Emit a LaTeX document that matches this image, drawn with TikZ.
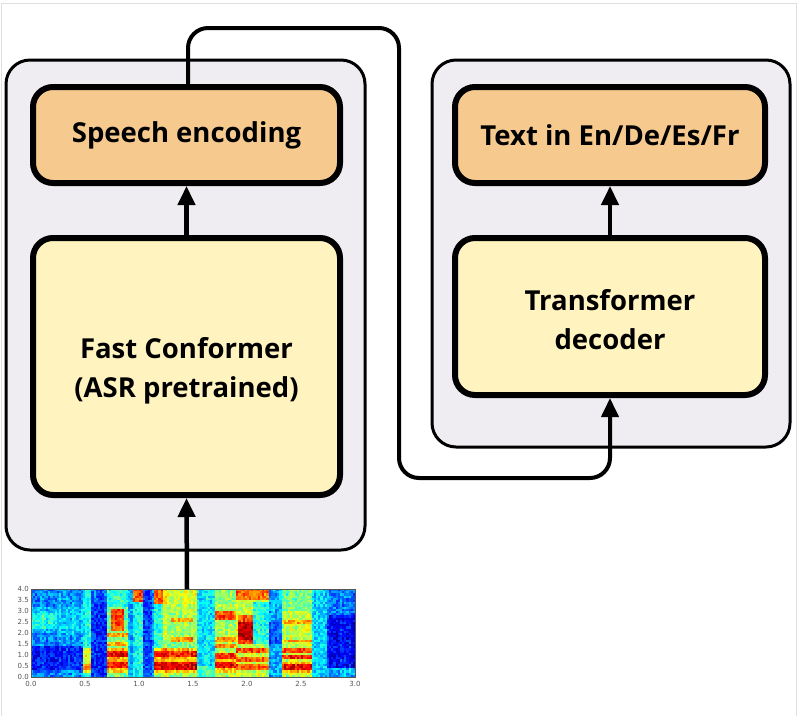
\documentclass[tikz,border=0pt]{standalone}
\usepackage{fontspec}
\setmainfont{Open Sans}
\newfontfamily\axfont{DejaVu Sans}
\usetikzlibrary{arrows.meta}
\definecolor{boxorange}{HTML}{F6CA8F}
\definecolor{boxyellow}{HTML}{FFF4BF}
\definecolor{panelgrey}{HTML}{EFEDF2}
\definecolor{axgrey}{HTML}{555555}
\newcommand\inr[4]{\ifdim#1pt>#2pt\relax\ifdim#1pt<#3pt\relax#4\fi\fi}
\newcommand\setv[1]{\def\spval{#1}}
\newcommand\specvalue{%
\setv{0.16}%
\inr\sT{-1}{0.48}{\inr\sF{1.4}{5}{\setv{0.27}}\inr\sF{2.0}{3.2}{\setv{0.33}}\inr\sF{0}{0.35}{\setv{0.27}}%
  \inr\sT{-1}{0.25}{\inr\sF{2.2}{2.9}{\setv{0.42}}}}%
\inr\sT{0.48}{0.555}{\setv{0.4}\inr\sF{0.2}{1.3}{\setv{0.6}}\inr\sF{0.35}{0.65}{\setv{0.72}}}%
\inr\sT{0.555}{0.70}{\inr\sF{3.4}{5}{\setv{0.22}}}%
\inr\sT{0.70}{0.90}{\setv{0.5}%
  \inr\sF{0.25}{0.8}{\setv{0.68}}\inr\sF{0.38}{0.68}{\setv{0.86}}%
  \inr\sF{0.8}{1.3}{\setv{0.7}}\inr\sF{0.9}{1.2}{\setv{0.9}}%
  \inr\sF{1.4}{1.6}{\setv{0.7}}%
  \inr\sF{1.8}{2.0}{\setv{0.72}}%
  \inr\sT{0.74}{0.86}{\inr\sF{2.1}{3.1}{\setv{0.8}}}%
  \inr\sF{3.2}{5}{\setv{0.42}}}%
\inr\sT{0.90}{1.15}{\setv{0.28}%
  \inr\sT{0.95}{1.05}{\setv{0.4}\inr\sF{3.4}{5}{\setv{0.8}}}%
  \inr\sT{1.05}{1.12}{\setv{0.18}}}%
\inr\sT{1.15}{1.55}{\setv{0.55}%
  \inr\sF{0.2}{0.85}{\setv{0.68}}\inr\sF{0.35}{0.72}{\setv{0.9}}%
  \inr\sF{0.85}{1.3}{\setv{0.7}}\inr\sF{0.9}{1.2}{\setv{0.86}}%
  \inr\sF{1.3}{1.6}{\setv{0.5}}%
  \inr\sT{1.3}{1.5}{\inr\sF{1.6}{1.8}{\setv{0.75}}\inr\sF{2.5}{2.7}{\setv{0.72}}}%
  \inr\sF{3.3}{5}{\setv{0.6}}%
  \inr\sT{1.15}{1.22}{\inr\sF{1.3}{3.3}{\setv{0.42}}\inr\sF{3.3}{5}{\setv{0.8}}}}%
\inr\sT{1.55}{1.70}{\setv{0.36}\inr\sF{0}{0.5}{\setv{0.45}}}%
\inr\sT{1.70}{1.90}{\setv{0.55}%
  \inr\sF{0.25}{0.8}{\setv{0.68}}\inr\sF{0.38}{0.7}{\setv{0.88}}%
  \inr\sF{0.85}{1.15}{\setv{0.84}}%
  \inr\sF{1.35}{1.55}{\setv{0.74}}%
  \inr\sF{1.65}{1.8}{\setv{0.72}}%
  \inr\sF{2.6}{3.0}{\setv{0.8}}%
  \inr\sF{3.3}{5}{\setv{0.52}}}%
\inr\sT{1.90}{2.20}{\setv{0.58}%
  \inr\sF{0.35}{0.6}{\setv{0.8}}%
  \inr\sF{0.75}{0.95}{\setv{0.8}}%
  \inr\sF{1.1}{1.3}{\setv{0.8}}%
  \inr\sT{1.92}{2.06}{\inr\sF{1.5}{2.8}{\setv{0.8}}\inr\sF{1.7}{2.5}{\setv{0.95}}}%
  \inr\sF{3.5}{5}{\setv{0.78}}%
  \inr\sT{2.06}{2.2}{\inr\sF{1.5}{3.4}{\setv{0.42}}}}%
\inr\sT{2.20}{2.33}{\setv{0.28}\inr\sF{1.5}{2.5}{\setv{0.2}}}%
\inr\sT{2.33}{2.60}{\setv{0.56}%
  \inr\sF{0.25}{0.75}{\setv{0.68}}\inr\sF{0.35}{0.65}{\setv{0.88}}%
  \inr\sF{0.8}{1.0}{\setv{0.84}}%
  \inr\sF{1.15}{1.3}{\setv{0.8}}%
  \inr\sF{1.6}{1.75}{\setv{0.72}}%
  \inr\sF{2.4}{2.6}{\setv{0.7}}%
  \inr\sF{3.0}{5}{\setv{0.48}}}%
\inr\sT{2.60}{2.75}{\setv{0.33}}%
\inr\sT{2.75}{3.1}{\setv{0.14}\inr\sF{2.8}{5}{\setv{0.26}}\inr\sF{0}{0.4}{\setv{0.32}}}%
}
\tikzset{
  panel/.style={draw=black, fill=panelgrey, line width=3pt, rounded corners=24pt},
  boxfont/.style={font=\fontsize{27.5}{39}\selectfont\bfseries, align=center},
  obox/.style={draw=black, fill=boxorange, line width=6pt, rounded corners=20pt,
    boxfont, inner sep=0pt},
  ybox/.style={obox, fill=boxyellow},
  arr/.style={line width=4.5pt, -{Triangle[width=17pt,length=19pt]}},
  conn/.style={line width=4pt, rounded corners=20pt},
  axlabel/.style={font=\axfont\fontsize{7}{7}\selectfont, text=axgrey, inner sep=0.5pt},
}
\begin{document}
\begin{tikzpicture}[x=1pt,y=-1pt]
\useasboundingbox (0,0) rectangle (798,716);
\fill[white] (0,0) rectangle (798,716);
\draw[gray!25, line width=1pt] (1.5,716) -- (1.5,3) -- (796.5,3) -- (796.5,716);

% panels
\node[panel, minimum width=359pt, minimum height=490pt] (lpanel) at (185.5,305) {};
\node[panel, minimum width=358pt, minimum height=387pt] (rpanel) at (611,253.5) {};

% boxes
\node[obox, minimum width=307pt, minimum height=96pt] (speech) at (186.5,135) {Speech encoding};
\node[ybox, minimum width=307pt, minimum height=257pt,
  label={[boxfont, yshift=-4pt]center:Fast Conformer\\(ASR pretrained)}] (conf) at (186.5,366.5) {};
\node[obox, minimum width=310pt, minimum height=96pt] (text) at (610,135) {Text in En/De/Es/Fr};
\node[ybox, minimum width=310pt, minimum height=157pt,
  label={[boxfont, yshift=-3pt]center:Transformer\\decoder}] (dec) at (610,316.5) {};

% spectrogram
\begin{scope}
\clip (31,589) rectangle (355,677);
\pgfmathsetseed{11}
\foreach \i in {0,...,149}{
  \pgfmathsetmacro\cn{0.08*rnd-0.04}
  \foreach \j in {0,...,39}{
    \pgfmathsetmacro\sT{(\i+0.5)*0.02}
    \pgfmathsetmacro\sF{(\j+0.5)*0.1}
    \specvalue
    \pgfmathsetmacro\vv{max(0,min(1,\spval+\cn+0.16*rnd-0.08))}
    \pgfmathsetmacro\jR{max(0,min(1,1.5-abs(4*\vv-3)))}
    \pgfmathsetmacro\jG{max(0,min(1,1.5-abs(4*\vv-2)))}
    \pgfmathsetmacro\jB{max(0,min(1,1.5-abs(4*\vv-1)))}
    \edef\tmpdef{\noexpand\definecolor{jc}{rgb}{\jR,\jG,\jB}}\tmpdef
    \fill[jc] (31+\i*2.16,677-\j*2.2) rectangle (31+\i*2.16+2.5,677-\j*2.2-2.5);
  }
}
\end{scope}
\draw[axgrey, line width=0.8pt] (31,589) rectangle (355,677);
\foreach \v/\l in {0/0.0,0.5/0.5,1/1.0,1.5/1.5,2/2.0,2.5/2.5,3/3.0,3.5/3.5,4/4.0}
  \node[axlabel, anchor=east] at (29.5,677-\v*22) {\l};
\foreach \v/\l in {0/0.0,0.5/0.5,1/1.0,1.5/1.5,2/2.0,2.5/2.5,3/3.0}
  \node[axlabel, anchor=north] at (31+\v*108,681) {\l};
\coordinate (spec) at (187,589);

% arrows
\draw[arr] (spec) -- (conf.south);
\draw[arr] (conf.north) -- (speech.south);
\draw[arr] (dec.north) -- (text.south);

% connector
\coordinate (c1) at (188,28);
\coordinate (c2) at (399,28);
\coordinate (c3) at (399,478);
\coordinate (c4) at (610,478);
\draw[conn, -{Triangle[width=17pt,length=19pt]}] (speech.north -| c1) -- (c1) -- (c2) -- (c3) -- (c4) -- (dec.south);
\end{tikzpicture}
\end{document}
